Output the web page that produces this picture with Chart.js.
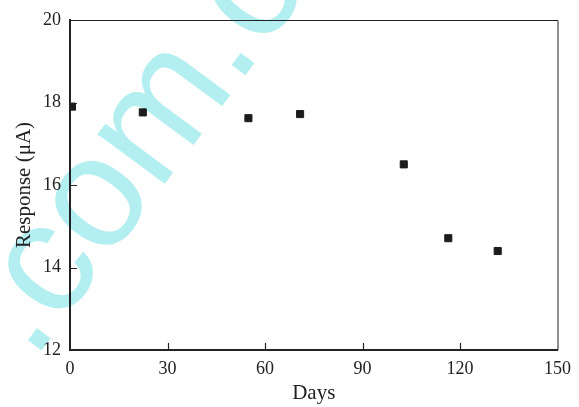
<!DOCTYPE html>
<html>
<head>
<meta charset="utf-8">
<script src="https://cdn.jsdelivr.net/npm/chart.js@4"></script>
<style>
  html, body { margin: 0; padding: 0; background: #fff; }
  #wrap { width: 579px; height: 407px; }
</style>
</head>
<body>
<div id="wrap"><canvas id="graphic1" width="579" height="407"></canvas></div>
<script>
// data
var days = [0.6, 22.4, 54.9, 70.8, 102.7, 116.4, 131.6]
var response = [17.90, 17.76, 17.62, 17.72, 16.50, 14.71, 14.40]
var xTicks = [0, 30, 60, 90, 120, 150]
var yTicks = [12, 14, 16, 18, 20]

var points = days.map(function (d, i) { return {x: d, y: response[i]} })

// watermark + box + inward tick marks
var decor = {
    id: "decor",
    beforeDraw: function (chart) {
        var c = chart.ctx
        c.save()
        c.translate(33, 362)
        c.rotate(-53.5 * Math.PI / 180)
        c.fillStyle = "#b3eff0"
        c.font = "158px 'Liberation Sans'"
        c.textBaseline = "alphabetic"
        c.fillText(".com.c", 0, 0)
        c.restore()
    },
    afterDraw: function (chart) {
        var c = chart.ctx
        var a = chart.chartArea
        var xs = chart.scales.x, ys = chart.scales.y
        c.save()
        c.strokeStyle = "#222"
        c.lineWidth = 1
        c.beginPath()
        c.moveTo(a.left, a.top + 0.5)
        c.lineTo(a.right + 0.5, a.top + 0.5)
        c.lineTo(a.right + 0.5, a.bottom)
        c.stroke()
        c.lineWidth = 1.2
        c.beginPath()
        xTicks.slice(1, -1).forEach(function (v) {
            var px = Math.round(xs.getPixelForValue(v)) + 0.5
            c.moveTo(px, a.bottom)
            c.lineTo(px, a.bottom - 7)
        })
        yTicks.slice(1, -1).forEach(function (v) {
            var py = Math.round(ys.getPixelForValue(v)) + 0.5
            c.moveTo(a.left, py)
            c.lineTo(a.left + 7, py)
        })
        c.stroke()
        c.restore()
    }
}

var graph = new Chart(document.getElementById("graphic1").getContext("2d"), {
    type: "scatter",
    data: {
        datasets: [{
            label: "Response",
            data: points,
            pointStyle: "rect",
            pointRadius: 5,
            pointBorderWidth: 1,
            backgroundColor: "#1c1c1c",
            borderColor: "#1c1c1c"
        }]
    },
    options: {
        responsive: false,
        animation: false,
        layout: { padding: { top: 20, right: 21, left: 0, bottom: 0 } },
        plugins: { legend: { display: false }, tooltip: { enabled: false } },
        scales: {
            x: {
                type: "linear",
                min: 0, max: 150,
                afterBuildTicks: function (s) { s.ticks = xTicks.map(function (v) { return {value: v} }) },
                afterFit: function (s) { s.height = 57 },
                grid: { drawOnChartArea: false, drawTicks: false },
                border: { color: "#222", width: 2 },
                ticks: { color: "#222", padding: 8, maxRotation: 0,
                    font: { family: "'Liberation Serif'", size: 18 } },
                title: { display: true, text: "Days", color: "#222",
                    padding: { top: 0, bottom: 1 },
                    font: { family: "'Liberation Serif'", size: 21 } }
            },
            y: {
                min: 12, max: 20,
                afterBuildTicks: function (s) { s.ticks = yTicks.map(function (v) { return {value: v} }) },
                afterFit: function (s) { s.width = 70 },
                grid: { drawOnChartArea: false, drawTicks: false },
                border: { color: "#222", width: 2 },
                ticks: { color: "#222", padding: 9,
                    font: { family: "'Liberation Serif'", size: 18 } },
                title: { display: true, text: "Response (μA)", color: "#222",
                    padding: { top: 12, bottom: 0 },
                    font: { family: "'Liberation Serif'", size: 21 } }
            }
        }
    },
    plugins: [decor]
})
</script>
</body>
</html>
